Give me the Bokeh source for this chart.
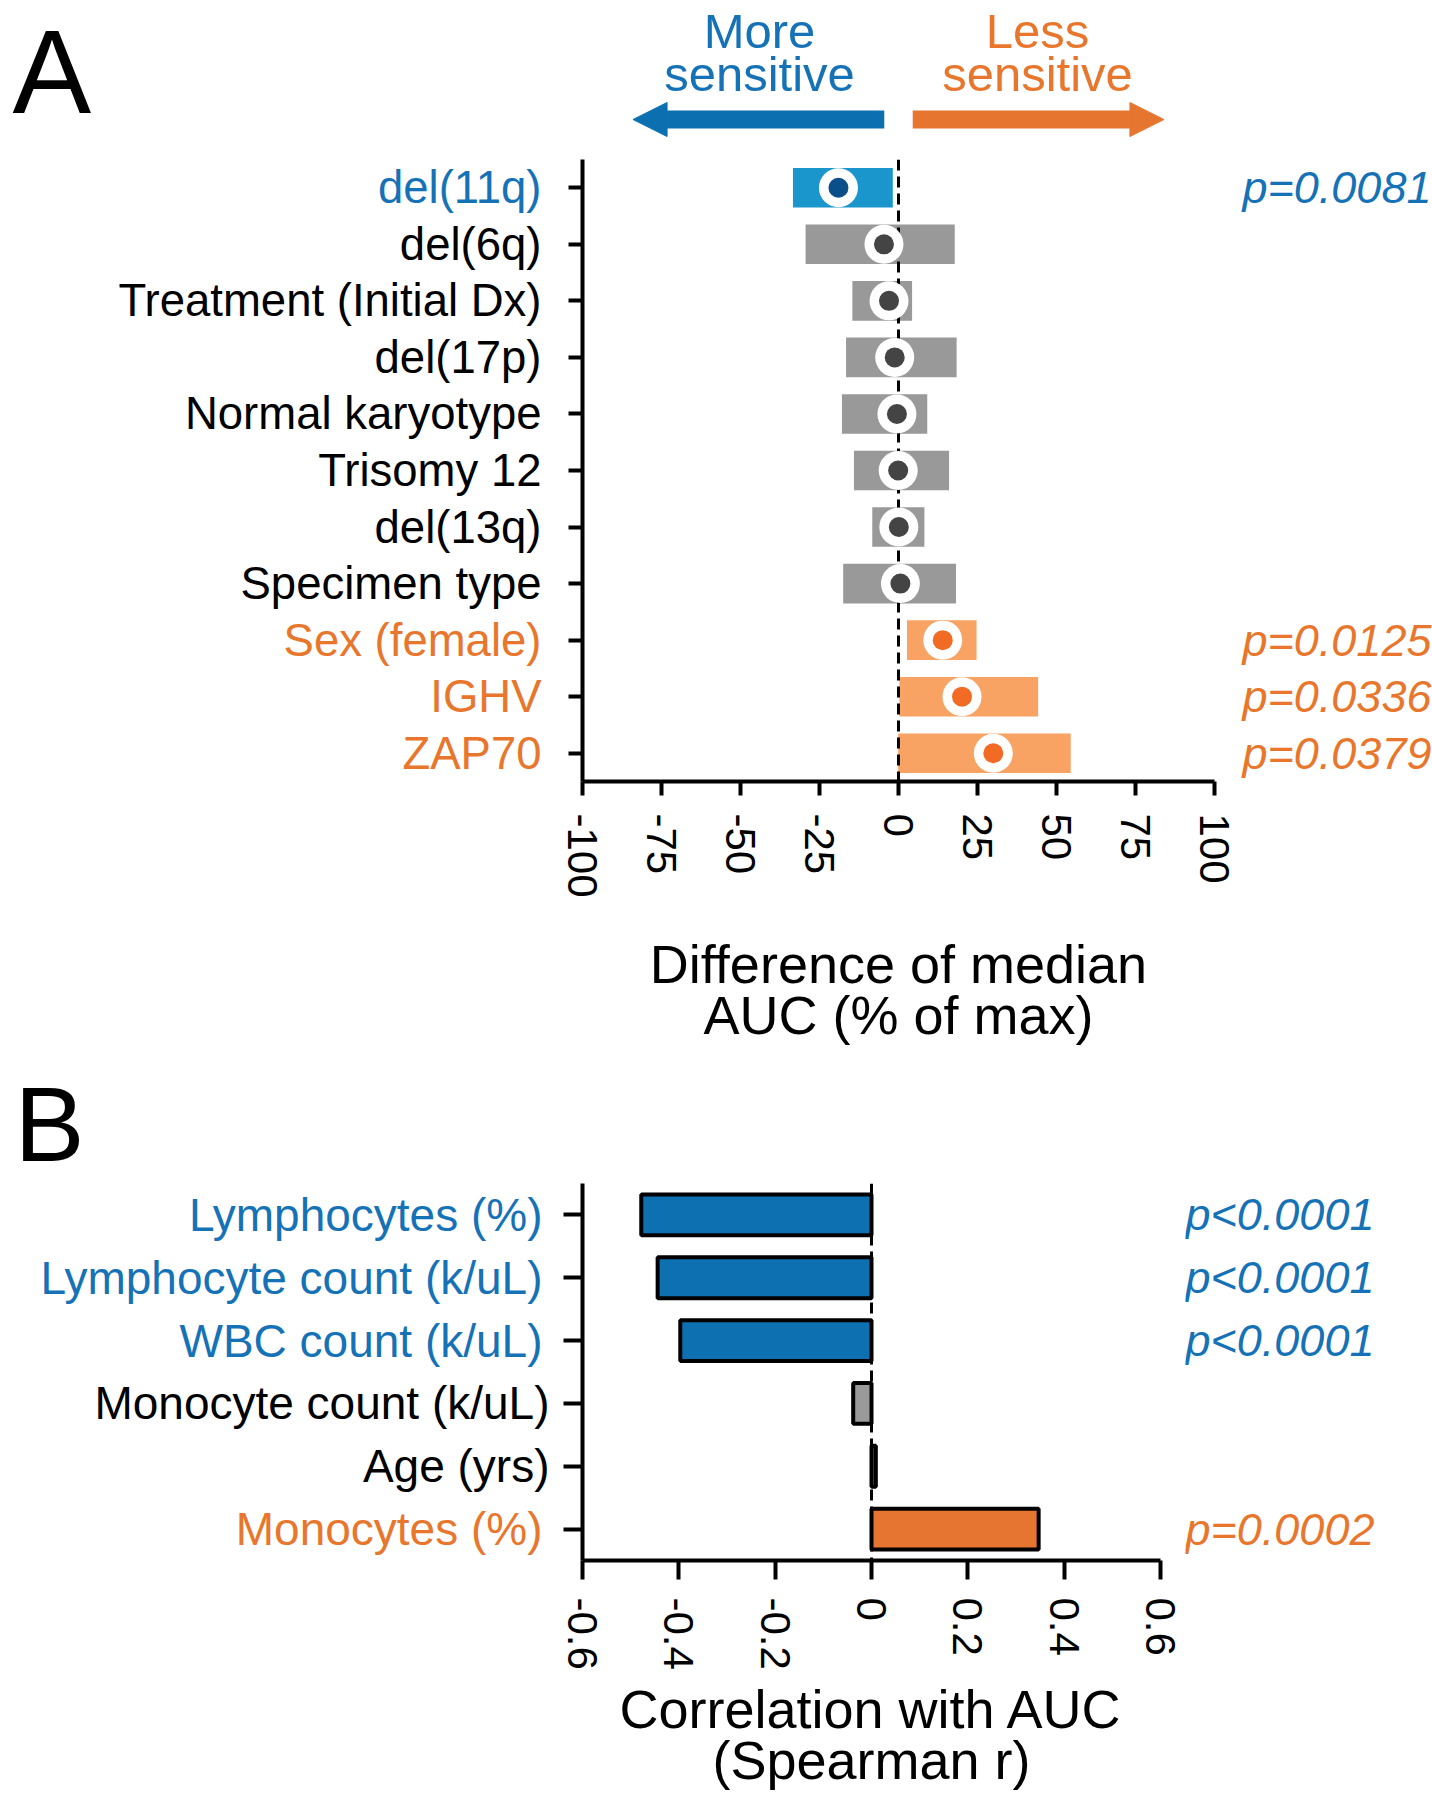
import math
from bokeh.plotting import figure
from bokeh.models import (ColumnDataSource, FactorRange, Range1d, LabelSet, Label,
                          Arrow, NormalHead, FixedTicker)
from bokeh.layouts import column, row
from bokeh.embed import file_html
from bokeh.resources import INLINE
from bokeh.core.properties import value

# ---------------- data ----------------
# Panel A (top to bottom)
a_categories = ["del(11q)", "del(6q)", "Treatment (Initial Dx)", "del(17p)",
                "Normal karyotype", "Trisomy 12", "del(13q)", "Specimen type",
                "Sex (female)", "IGHV", "ZAP70"]
a_low = [-33.4, -29.4, -14.6, -16.6, -17.9, -14.1, -8.3, -17.5, 2.7, 0.3, -0.1]
a_high = [-1.8, 17.8, 4.3, 18.4, 9.1, 16.0, 8.2, 18.2, 24.7, 44.2, 54.5]
a_median = [-19.0, -4.6, -3.0, -1.2, -0.5, -0.1, 0.1, 0.6, 14.0, 20.1, 30.0]
a_direction = ["more", "ns", "ns", "ns", "ns", "ns", "ns", "ns", "less", "less", "less"]
a_pvalues = ["p=0.0081", "", "", "", "", "", "", "", "p=0.0125", "p=0.0336", "p=0.0379"]
a_ticks = [-100, -75, -50, -25, 0, 25, 50, 75, 100]
a_tick_labels = ["-100", "-75", "-50", "-25", "0", "25", "50", "75", "100"]

# Panel B (top to bottom)
b_categories = ["Lymphocytes (%)", "Lymphocyte count (k/uL)", "WBC count (k/uL)",
                "Monocyte count (k/uL)", "Age (yrs)", "Monocytes (%)"]
b_r = [-0.478, -0.444, -0.397, -0.038, 0.009, 0.347]
b_direction = ["more", "more", "more", "ns", "ns", "less"]
b_pvalues = ["p<0.0001", "p<0.0001", "p<0.0001", "", "", "p=0.0002"]
b_ticks = [-0.6, -0.4, -0.2, 0, 0.2, 0.4, 0.6]
b_tick_labels = ["-0.6", "-0.4", "-0.2", "0", "0.2", "0.4", "0.6"]

# ---------------- styles ----------------
FONT = "Liberation Sans"
BLUE_TXT = "#1672b6"
ORANGE_TXT = "#e8762c"
a_bar_col = {"more": "#1b96cc", "ns": "#999999", "less": "#f8a263"}
a_dot_col = {"more": "#0b4f8a", "ns": "#444444", "less": "#f26b24"}
txt_col = {"more": BLUE_TXT, "ns": "#000000", "less": ORANGE_TXT}
b_bar_col = {"more": "#0c70b1", "ns": "#9a9a9a", "less": "#e67532"}

BORDER = 26
B_RIGHT = 25
LEFT_W = 556           # width of the category-label column
A_MAIN_W = 632 + 2 * BORDER
B_MAIN_W = 578 + BORDER + B_RIGHT
b_lab_x = {"more": 542, "ns": 549, "less": 542}


def blank(width, height, x_range, y_range, top=0, bottom=0, left=0, right=0):
    f = figure(width=width, height=height, x_range=x_range, y_range=y_range,
               min_border_left=left, min_border_right=right, min_border_top=top,
               min_border_bottom=bottom, x_axis_location=None, y_axis_location=None,
               output_backend="svg", toolbar_location=None)
    f.grid.visible = False
    f.outline_line_color = None
    return f


def style_axes(p, tick_len, label_text, standoff, ticks, tick_labels):
    for ax in (p.xaxis[0], p.yaxis[0]):
        ax.axis_line_width = 4
        ax.axis_line_color = "black"
        ax.major_tick_line_width = 4
        ax.major_tick_line_color = "black"
        ax.major_tick_in = 0
        ax.major_tick_out = tick_len
        ax.minor_tick_line_color = None
    # category names are drawn (coloured) in the side figure instead
    p.yaxis.major_label_text_font_size = "0px"
    p.yaxis.major_label_text_color = None
    p.yaxis.major_label_standoff = 0
    xa = p.xaxis[0]
    xa.ticker = FixedTicker(ticks=ticks)
    xa.major_label_overrides = {t: s for t, s in zip(ticks, tick_labels)}
    xa.major_label_orientation = -math.pi / 2
    xa.major_label_text_font = FONT
    xa.major_label_text_font_size = "42px"
    xa.major_label_text_color = "black"
    xa.major_label_standoff = 18
    xa.axis_label = label_text
    xa.axis_label_text_font = FONT
    xa.axis_label_text_font_size = "54px"
    xa.axis_label_text_font_style = "normal"
    xa.axis_label_text_color = "black"
    xa.axis_label_text_line_height = 0.85
    xa.axis_label_standoff = standoff
    p.grid.visible = False
    p.outline_line_color = None


# ---------------- header ----------------
x_a = Range1d(-100, 100)
HDR_H = 150
hdrL = blank(LEFT_W, HDR_H, Range1d(0, LEFT_W), Range1d(HDR_H, 0))
hdrL.add_layout(Label(x=12, y=71, text="A", text_align="left", text_baseline="middle",
                      text_font=FONT, text_font_size="118px", text_color="black"))

hdrM = blank(A_MAIN_W, HDR_H, x_a, Range1d(HDR_H, 0), left=BORDER, right=BORDER)
hdrM.add_layout(Arrow(end=NormalHead(size=34, fill_color="#0c6fb0", line_color="#0c6fb0"),
                      x_start=-4.5, y_start=119, x_end=-84, y_end=119,
                      line_width=18, line_color="#0c6fb0"))
hdrM.add_layout(Arrow(end=NormalHead(size=34, fill_color="#e67530", line_color="#e67530"),
                      x_start=4.5, y_start=119, x_end=84, y_end=119,
                      line_width=18, line_color="#e67530"))
for txt, xx, yy, col in [("More", -44, 30, BLUE_TXT), ("sensitive", -44, 73, BLUE_TXT),
                         ("Less", 44, 30, ORANGE_TXT), ("sensitive", 44, 73, ORANGE_TXT)]:
    hdrM.add_layout(Label(x=xx, y=yy, text=txt, text_align="center",
                          text_baseline="middle", text_font=FONT,
                          text_font_size="49px", text_color=col))

# ---------------- panel A ----------------
A_H, A_TOP, A_BOT = 900, 9, 269
ya = FactorRange(factors=list(reversed(a_categories)))
pa = figure(width=A_MAIN_W, height=A_H, x_range=x_a, y_range=ya,
            min_border_left=BORDER, min_border_right=BORDER, min_border_top=A_TOP,
            min_border_bottom=A_BOT, output_backend="svg", toolbar_location=None)

src_a = ColumnDataSource(dict(
    cat=a_categories, low=a_low, high=a_high, med=a_median,
    bar=[a_bar_col[d] for d in a_direction],
    dot=[a_dot_col[d] for d in a_direction],
    tcol=[txt_col[d] for d in a_direction],
))
pa.hbar(y="cat", left="low", right="high", height=0.7, fill_color="bar",
        line_color=None, source=src_a)
pa.vspan(x=[0], line_color="black", line_width=3, line_dash="11 6")
pa.scatter(x="med", y="cat", size=39, fill_color="white", line_color=None, source=src_a)
pa.scatter(x="med", y="cat", size=20, fill_color="dot", line_color=None, source=src_a)
style_axes(pa, 14, "Difference of median\nAUC (% of max)", 33, a_ticks, a_tick_labels)

labA = blank(LEFT_W, A_H, Range1d(0, LEFT_W), ya, top=A_TOP, bottom=A_BOT)
labA.add_layout(LabelSet(x=541, y="cat", text="cat", text_color="tcol",
                         text_align="right", text_baseline="middle",
                         text_font=value(FONT), text_font_size="45.5px", source=src_a))

ia = [i for i, pv in enumerate(a_pvalues) if pv]
src_ap = ColumnDataSource(dict(cat=[a_categories[i] for i in ia],
                               pv=[a_pvalues[i] for i in ia],
                               tcol=[txt_col[a_direction[i]] for i in ia]))
PVA_W = 1432 - LEFT_W - A_MAIN_W
pvA = blank(PVA_W, A_H, Range1d(0, PVA_W), ya, top=A_TOP, bottom=A_BOT)
pvA.add_layout(LabelSet(x=2, y="cat", text="pv", text_color="tcol",
                        text_align="left", text_baseline="middle",
                        text_font=value(FONT), text_font_style="italic",
                        text_font_size="45px", source=src_ap))

# ---------------- "B" letter ----------------
BL_H = 133
bfig = blank(1432, BL_H, Range1d(0, 1432), Range1d(BL_H, 0))
bfig.add_layout(Label(x=14, y=73.6, text="B", text_align="left", text_baseline="middle",
                      text_font=FONT, text_font_size="105px", text_color="black"))

# ---------------- panel B ----------------
B_H, B_TOP, B_BOT = 1800 - 150 - A_H - BL_H, 0, 240
yb = FactorRange(factors=list(reversed(b_categories)))
pb = figure(width=B_MAIN_W, height=B_H, x_range=Range1d(-0.6, 0.6), y_range=yb,
            min_border_left=BORDER, min_border_right=B_RIGHT, min_border_top=B_TOP,
            min_border_bottom=B_BOT, output_backend="svg", toolbar_location=None)

src_b = ColumnDataSource(dict(
    cat=b_categories, r=b_r,
    bar=[b_bar_col[d] for d in b_direction],
    tcol=[txt_col[d] for d in b_direction],
    lx=[b_lab_x[d] for d in b_direction],
))
pb.hbar(y="cat", left=0, right="r", height=0.65, fill_color="bar",
        line_color="black", line_width=4, source=src_b)
pb.vspan(x=[0], line_color="black", line_width=3, line_dash="11 6")
style_axes(pb, 19, "Correlation with AUC\n(Spearman r)", 6, b_ticks, b_tick_labels)

labB = blank(LEFT_W, B_H, Range1d(0, LEFT_W), yb, top=B_TOP, bottom=B_BOT)
labB.add_layout(LabelSet(x="lx", y="cat", text="cat", text_color="tcol",
                         text_align="right", text_baseline="middle",
                         text_font=value(FONT), text_font_size="46px", source=src_b))

ib = [i for i, pv in enumerate(b_pvalues) if pv]
src_bp = ColumnDataSource(dict(cat=[b_categories[i] for i in ib],
                               pv=[b_pvalues[i] for i in ib],
                               tcol=[txt_col[b_direction[i]] for i in ib]))
PVB_W = 1432 - LEFT_W - B_MAIN_W
pvB = blank(PVB_W, B_H, Range1d(0, PVB_W), yb, top=B_TOP, bottom=B_BOT)
pvB.add_layout(LabelSet(x=0, y="cat", text="pv", text_color="tcol",
                        text_align="left", text_baseline="middle",
                        text_font=value(FONT), text_font_style="italic",
                        text_font_size="45px", source=src_bp))

layout = column(row(hdrL, hdrM, spacing=0),
                row(labA, pa, pvA, spacing=0),
                bfig,
                row(labB, pb, pvB, spacing=0),
                spacing=0)
open("out.html", "w").write(file_html(layout, INLINE))
